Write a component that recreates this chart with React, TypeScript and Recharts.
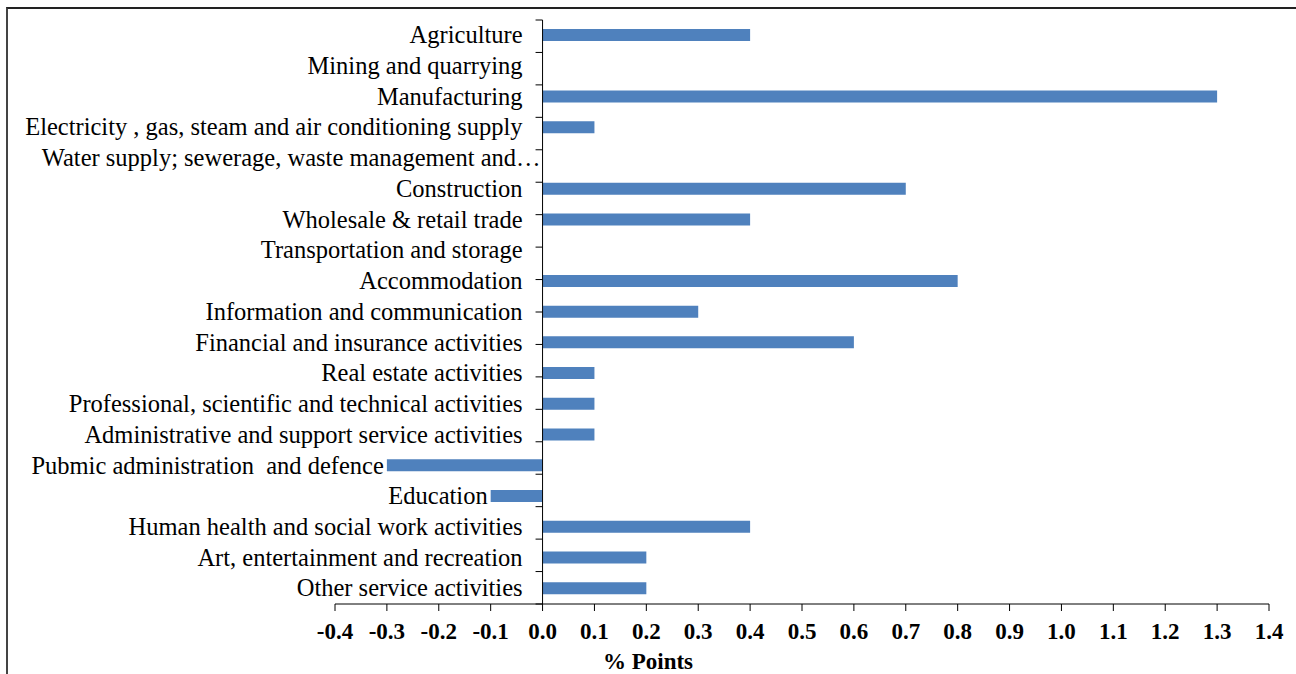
import React from 'react';
import { BarChart, Bar, XAxis, YAxis, ReferenceLine } from 'recharts';

const categories = [
  'Agriculture',
  'Mining and quarrying',
  'Manufacturing',
  'Electricity , gas, steam and air conditioning supply',
  'Water supply; sewerage, waste management and…',
  'Construction',
  'Wholesale & retail trade',
  'Transportation and storage',
  'Accommodation',
  'Information and communication',
  'Financial and insurance activities',
  'Real estate activities',
  'Professional, scientific and technical activities',
  'Administrative and support service activities',
  'Pubmic administration  and defence',
  'Education',
  'Human health and social work activities',
  'Art, entertainment and recreation',
  'Other service activities',
];

const values = [0.4, 0, 1.3, 0.1, 0, 0.7, 0.4, 0, 0.8, 0.3, 0.6, 0.1, 0.1, 0.1, -0.3, -0.1, 0.4, 0.2, 0.2];

const xTicks = [-0.4, -0.3, -0.2, -0.1, 0, 0.1, 0.2, 0.3, 0.4, 0.5, 0.6, 0.7, 0.8, 0.9, 1.0, 1.1, 1.2, 1.3, 1.4];
const xDomain = [-0.4, 1.4];

const boundaries = Array.from({ length: categories.length + 1 }, (_, i) => i);

const data = categories.map((name, i) => ({ name, value: values[i] }));

const FONT = '"Liberation Serif", "Times New Roman", serif';

const toX = (p: any, v: number) => p.x1 + ((p.x2 - p.x1) * (v - xDomain[0])) / (xDomain[1] - xDomain[0]);

// short tick marks on the zero line, between categories
const BoundaryTick = (p: any) => {
  const zeroX = toX(p, 0);
  return <line x1={zeroX - 7} x2={zeroX} y1={p.y1} y2={p.y1} stroke="#000" strokeWidth={1} />;
};

// category name next to the zero line, or left of a negative bar
const makeLabel = (idx: number) => (p: any) => {
  const name = categories[idx];
  const v = values[idx];
  const zeroX = toX(p, 0);
  let endX = zeroX - 20;
  if (v < 0) endX = Math.min(endX, toX(p, v) - 3);
  if (name.endsWith('…')) endX = zeroX - 2;
  return (
    <text x={endX} y={p.y1} dy="0.32em" textAnchor="end" fontFamily={FONT} fontSize={24.5} fill="#000" style={{ whiteSpace: 'pre' }}>
      {name}
    </text>
  );
};

export default function App() {
  return (
    <div style={{ position: 'absolute', left: 0, top: 0, width: 1296, height: 674, background: '#fff', overflow: 'hidden' }}>
      <div
        style={{
          position: 'absolute',
          left: 6,
          top: 7,
          width: 1400,
          height: 800,
          borderLeft: '2px solid #444',
          borderTop: '2px solid #222',
        }}
      />
      <div style={{ position: 'absolute', left: 0, top: 0 }}>
        <BarChart
          width={1296}
          height={674}
          data={data}
          layout="vertical"
          margin={{ top: 20, right: 27, bottom: 0, left: 335 }}
        >
          <XAxis
            type="number"
            domain={xDomain}
            ticks={xTicks}
            interval={0}
            allowDataOverflow
            height={70}
            tickFormatter={(v: number) => v.toFixed(1)}
            axisLine={{ stroke: '#000' }}
            tickLine={{ stroke: '#000' }}
            tickSize={7}
            tickMargin={12}
            tick={{ fontFamily: FONT, fontSize: 23, fontWeight: 'bold', fill: '#000' }}
          />
          <YAxis yAxisId="cat" type="category" dataKey="name" hide />
          <YAxis yAxisId="b" type="number" domain={[0, categories.length]} reversed hide />
          <ReferenceLine x={0} yAxisId="cat" stroke="#000" strokeWidth={1} />
          {boundaries.map((b) => (
            <ReferenceLine key={'b' + b} y={b} yAxisId="b" shape={BoundaryTick} />
          ))}
          {categories.map((c, i) => (
            <ReferenceLine key={'c' + i} y={c} yAxisId="cat" shape={makeLabel(i)} />
          ))}
          <Bar yAxisId="cat" dataKey="value" fill="#4F81BD" barSize={12} isAnimationActive={false} />
        </BarChart>
      </div>
      <div
        style={{
          position: 'absolute',
          left: 548,
          top: 649,
          width: 200,
          textAlign: 'center',
          fontFamily: FONT,
          fontSize: 23,
          fontWeight: 'bold',
          color: '#000',
          lineHeight: '26px',
        }}
      >
        % Points
      </div>
    </div>
  );
}
